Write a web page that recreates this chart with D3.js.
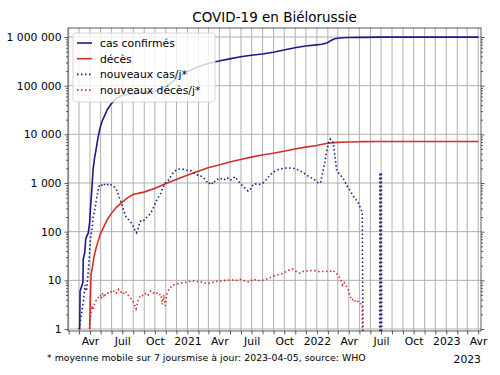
<!DOCTYPE html>
<html>
<head>
<meta charset="utf-8">
<script src="https://cdn.jsdelivr.net/npm/d3@7"></script>
<style>
  body { margin: 0; background: #fff; }
  svg { font-family: "DejaVu Sans", sans-serif; }
</style>
</head>
<body>
<div id="chart"></div>
<script>
// cumulative confirmed cases
const cumulCases = [
  ['2020-03-01', 1], ['2020-03-03', 1], ['2020-03-04', 6], ['2020-03-12', 9], ['2020-03-13', 27],
  ['2020-03-17', 36], ['2020-03-20', 69], ['2020-03-23', 81], ['2020-03-27', 94], ['2020-03-31', 152],
  ['2020-04-03', 351], ['2020-04-06', 700], ['2020-04-10', 1981], ['2020-04-14', 3281], ['2020-04-18', 4779],
  ['2020-04-22', 7281], ['2020-04-26', 10463], ['2020-04-30', 14027], ['2020-05-06', 19255], ['2020-05-12', 24000],
  ['2020-05-20', 32426], ['2020-05-31', 42556], ['2020-06-15', 54680], ['2020-06-30', 62424], ['2020-07-15', 66000],
  ['2020-07-31', 68251], ['2020-08-31', 72555], ['2020-09-30', 77289], ['2020-10-15', 83000], ['2020-10-31', 95708],
  ['2020-11-15', 112000], ['2020-11-30', 139716], ['2020-12-15', 165000], ['2020-12-31', 194000], ['2021-01-31', 245000],
  ['2021-02-28', 285000], ['2021-03-31', 320000], ['2021-04-30', 355000], ['2021-05-31', 392000], ['2021-06-30', 420000],
  ['2021-07-31', 447000], ['2021-08-31', 485000], ['2021-09-30', 540000], ['2021-10-31', 600000], ['2021-11-30', 655000],
  ['2021-12-31', 690000], ['2022-01-15', 710000], ['2022-01-31', 760000], ['2022-02-10', 850000], ['2022-02-20', 920000],
  ['2022-03-01', 945000], ['2022-03-15', 965000], ['2022-03-31', 978000], ['2022-04-30', 983000], ['2022-05-11', 983500],
  ['2022-06-28', 994000], ['2023-04-02', 994000]
];

// cumulative deaths
const cumulDeaths = [
  ['2020-03-31', 1], ['2020-04-02', 4], ['2020-04-04', 13], ['2020-04-08', 19], ['2020-04-12', 29],
  ['2020-04-16', 40], ['2020-04-20', 51], ['2020-04-25', 67], ['2020-04-30', 89], ['2020-05-10', 126],
  ['2020-05-20', 179], ['2020-05-31', 235], ['2020-06-15', 320], ['2020-06-30', 400], ['2020-07-15', 490],
  ['2020-07-31', 580], ['2020-08-31', 650], ['2020-09-30', 770], ['2020-10-31', 960], ['2020-11-30', 1180],
  ['2020-12-31', 1450], ['2021-01-31', 1750], ['2021-02-28', 2050], ['2021-03-31', 2350], ['2021-04-30', 2700],
  ['2021-05-31', 3050], ['2021-06-30', 3400], ['2021-07-31', 3750], ['2021-08-31', 4100], ['2021-09-30', 4500],
  ['2021-10-31', 5000], ['2021-11-30', 5450], ['2021-12-31', 5900], ['2022-01-31', 6550], ['2022-02-28', 6820],
  ['2022-03-31', 6980], ['2022-04-30', 7060], ['2022-05-11', 7080], ['2022-06-28', 7118], ['2023-04-02', 7118]
];

// new cases per day (7-day average)
const newCases = [
  ['2020-03-01', 1], ['2020-03-08', 2], ['2020-03-14', 4], ['2020-03-18', 8], ['2020-03-22', 6],
  ['2020-03-26', 12], ['2020-03-30', 30], ['2020-04-03', 80], ['2020-04-06', 100], ['2020-04-10', 200],
  ['2020-04-15', 300], ['2020-04-20', 500], ['2020-04-24', 700], ['2020-04-28', 900], ['2020-05-02', 950],
  ['2020-05-06', 880], ['2020-05-10', 960], ['2020-05-14', 900], ['2020-05-18', 950], ['2020-05-22', 920],
  ['2020-05-27', 960], ['2020-06-01', 890], ['2020-06-06', 870], ['2020-06-12', 780], ['2020-06-18', 650],
  ['2020-06-24', 470], ['2020-06-30', 360], ['2020-07-06', 260], ['2020-07-12', 200], ['2020-07-18', 180],
  ['2020-07-24', 160], ['2020-07-30', 140], ['2020-08-05', 110], ['2020-08-10', 95], ['2020-08-14', 110],
  ['2020-08-20', 160], ['2020-08-25', 175], ['2020-08-31', 170], ['2020-09-06', 190], ['2020-09-12', 210],
  ['2020-09-18', 230], ['2020-09-24', 280], ['2020-09-30', 350], ['2020-10-06', 440], ['2020-10-12', 520],
  ['2020-10-18', 620], ['2020-10-24', 800], ['2020-10-30', 1000], ['2020-11-05', 1050], ['2020-11-10', 1200],
  ['2020-11-17', 1450], ['2020-11-24', 1700], ['2020-12-01', 1850], ['2020-12-08', 1920], ['2020-12-15', 1950],
  ['2020-12-22', 1900], ['2020-12-29', 1850], ['2021-01-05', 1750], ['2021-01-12', 1780], ['2021-01-19', 1600],
  ['2021-01-26', 1500], ['2021-02-02', 1400], ['2021-02-09', 1380], ['2021-02-16', 1250], ['2021-02-23', 1100],
  ['2021-03-02', 950], ['2021-03-09', 1050], ['2021-03-14', 950], ['2021-03-22', 1150], ['2021-04-03', 1260],
  ['2021-04-14', 1150], ['2021-04-22', 1300], ['2021-05-01', 1150], ['2021-05-08', 1200], ['2021-05-15', 1350],
  ['2021-05-22', 1150], ['2021-05-29', 1000], ['2021-06-07', 850], ['2021-06-14', 760], ['2021-06-21', 680],
  ['2021-06-30', 780], ['2021-07-05', 930], ['2021-07-11', 960], ['2021-07-20', 920], ['2021-08-02', 1000],
  ['2021-08-10', 1150], ['2021-08-20', 1400], ['2021-08-30', 1650], ['2021-09-10', 1850], ['2021-09-28', 2000],
  ['2021-10-12', 2050], ['2021-10-26', 2000], ['2021-11-05', 1900], ['2021-11-14', 1780], ['2021-11-23', 1650],
  ['2021-12-03', 1450], ['2021-12-12', 1320], ['2021-12-21', 1250], ['2021-12-30', 1100], ['2022-01-06', 980],
  ['2022-01-12', 1050], ['2022-01-18', 1700], ['2022-01-24', 2800], ['2022-01-30', 5000], ['2022-02-04', 7000],
  ['2022-02-08', 8000], ['2022-02-12', 7200], ['2022-02-16', 6800], ['2022-02-21', 3500], ['2022-02-26', 1800],
  ['2022-03-02', 1650], ['2022-03-09', 1450], ['2022-03-16', 1250], ['2022-03-23', 1000], ['2022-03-30', 800],
  ['2022-04-05', 700], ['2022-04-12', 560], ['2022-04-19', 480], ['2022-04-27', 400], ['2022-05-03', 320],
  ['2022-05-09', 250], ['2022-05-12', 0], ['2022-06-27', 0], ['2022-06-28', 1650], ['2022-06-29', 0],
  ['2022-06-30', 1650], ['2022-07-01', 0], ['2022-07-02', 1650], ['2022-07-03', 0], ['2023-04-02', 0]
];

// new deaths per day (7-day average)
const newDeaths = [
  ['2020-03-31', 1], ['2020-04-03', 2], ['2020-04-07', 3], ['2020-04-10', 2.5], ['2020-04-15', 3.5],
  ['2020-04-20', 4], ['2020-04-25', 4.5], ['2020-04-30', 5], ['2020-05-03', 4.2], ['2020-05-07', 5.5],
  ['2020-05-12', 4.5], ['2020-05-16', 5.5], ['2020-05-22', 5.5], ['2020-05-28', 6], ['2020-06-03', 5.5],
  ['2020-06-09', 6.2], ['2020-06-15', 5.5], ['2020-06-21', 6.5], ['2020-06-27', 5.8], ['2020-07-03', 5.2],
  ['2020-07-10', 6], ['2020-07-17', 5], ['2020-07-23', 4.5], ['2020-08-02', 3.5], ['2020-08-09', 2.6],
  ['2020-08-15', 4], ['2020-08-23', 5], ['2020-08-30', 4.8], ['2020-09-06', 5.5], ['2020-09-12', 5],
  ['2020-09-19', 6], ['2020-09-26', 5.5], ['2020-10-04', 5.8], ['2020-10-11', 5], ['2020-10-18', 5.2],
  ['2020-10-22', 3.2], ['2020-10-26', 5], ['2020-10-30', 3], ['2020-11-05', 5.8], ['2020-11-13', 7],
  ['2020-11-20', 8], ['2020-11-27', 8.2], ['2020-12-05', 8.5], ['2020-12-15', 8.8], ['2020-12-25', 9],
  ['2021-01-05', 9.5], ['2021-01-15', 9.8], ['2021-01-25', 9.5], ['2021-02-05', 9.4], ['2021-02-15', 9],
  ['2021-02-25', 8.6], ['2021-03-09', 8.8], ['2021-03-20', 9.5], ['2021-04-06', 9.7], ['2021-04-20', 10],
  ['2021-05-05', 10.2], ['2021-05-20', 10], ['2021-05-29', 10.5], ['2021-06-10', 9.8], ['2021-06-18', 9.3],
  ['2021-06-28', 9.5], ['2021-07-05', 10.6], ['2021-07-15', 10], ['2021-07-25', 9.8], ['2021-08-02', 10],
  ['2021-08-15', 10.8], ['2021-08-30', 12], ['2021-09-14', 13], ['2021-09-28', 14], ['2021-10-12', 16],
  ['2021-10-26', 17], ['2021-11-05', 15], ['2021-11-15', 14], ['2021-11-25', 15.5], ['2021-12-07', 15.5],
  ['2021-12-20', 16], ['2022-01-01', 15.5], ['2022-01-10', 15], ['2022-01-22', 15.5], ['2022-02-05', 15],
  ['2022-02-16', 16], ['2022-02-22', 14], ['2022-02-27', 13.5], ['2022-03-08', 11], ['2022-03-15', 8],
  ['2022-03-19', 9], ['2022-03-22', 8.5], ['2022-03-30', 6.5], ['2022-04-03', 5], ['2022-04-10', 3.9],
  ['2022-04-15', 4.2], ['2022-04-20', 3.6], ['2022-04-25', 3.8], ['2022-05-01', 3.4], ['2022-05-09', 3.2],
  ['2022-05-11', 0], ['2023-04-02', 0]
];

const yTickValues = [1, 10, 100, 1000, 10000, 100000, 1000000];
const yTickLabels = ['1', '10', '100', '1 000', '10 000', '100 000', '1 000 000'];
const monthLabels = { 3: 'Avr', 6: 'Juil', 9: 'Oct' };

const legendItems = [
  { label: 'cas confirmés', color: '#1b1b87', dash: null },
  { label: 'décès', color: '#d0302b', dash: null },
  { label: 'nouveaux cas/j*', color: '#1b1b87', dash: '1.5,2.5' },
  { label: 'nouveaux décès/j*', color: '#d0302b', dash: '1.5,2.5' }
];

const parse = d3.utcParse('%Y-%m-%d');
const W = 500, H = 375;
const margin = { top: 28, right: 19, bottom: 44, left: 68 };
const width = W - margin.left - margin.right;
const height = H - margin.top - margin.bottom;

const x = d3.scaleUtc()
  .domain([parse('2020-01-30'), parse('2023-04-09')])
  .range([0, width]);

const y = d3.scaleLog()
  .domain([0.91, 1.53e6])
  .range([height, 0]);

const svg = d3.select('#chart').append('svg')
  .attr('width', W)
  .attr('height', H);

svg.append('defs').append('clipPath').attr('id', 'clip')
  .append('rect').attr('width', width).attr('height', height);

const g = svg.append('g')
  .attr('transform', 'translate(' + margin.left + ',' + margin.top + ')');

// grid
const months = d3.utcMonth.range(parse('2020-02-01'), parse('2023-04-09'));
g.append('g').selectAll('line')
  .data(months)
  .enter().append('line')
  .attr('x1', d => x(d)).attr('x2', d => x(d))
  .attr('y1', 0).attr('y2', height)
  .attr('stroke', '#b0b0b0')
  .attr('stroke-width', 1);

g.append('g').selectAll('line')
  .data(yTickValues)
  .enter().append('line')
  .attr('x1', 0).attr('x2', width)
  .attr('y1', d => y(d)).attr('y2', d => y(d))
  .attr('stroke', '#b0b0b0')
  .attr('stroke-width', 1);

// lines
const line = d3.line()
  .x(d => x(parse(d[0])))
  .y(d => y(Math.max(d[1], 0.05)));

const plot = g.append('g').attr('clip-path', 'url(#clip)');
const series = [cumulCases, cumulDeaths, newCases, newDeaths];
series.forEach((s, i) => {
  plot.append('path')
    .attr('d', line(s))
    .attr('fill', 'none')
    .attr('stroke', legendItems[i].color)
    .attr('stroke-width', 1.6)
    .attr('stroke-dasharray', legendItems[i].dash);
});

// axes
const minor = [];
for (let e = 0; e <= 6; e++) {
  for (let m = 2; m <= 9; m++) {
    const v = m * Math.pow(10, e);
    if (v < 1.53e6) minor.push(v);
  }
}

const yAxisL = d3.axisLeft(y).tickValues(yTickValues)
  .tickFormat((d, i) => yTickLabels[i]).tickSize(3.5).tickPadding(3);
const yAxisR = d3.axisRight(y).tickValues(yTickValues)
  .tickFormat('').tickSize(3.5);

const yl = g.append('g').call(yAxisL);
const yr = g.append('g').attr('transform', 'translate(' + width + ',0)').call(yAxisR);
yl.append('g').call(d3.axisLeft(y).tickValues(minor).tickFormat('').tickSize(2));
yr.append('g').call(d3.axisRight(y).tickValues(minor).tickFormat('').tickSize(2));

const xAxis = d3.axisBottom(x).tickValues(months)
  .tickFormat(d => d.getUTCMonth() === 0 ? String(d.getUTCFullYear()) : (monthLabels[d.getUTCMonth()] || ''))
  .tickSize(3.5).tickPadding(3);
const xa = g.append('g').attr('transform', 'translate(0,' + height + ')').call(xAxis);

[yl, yr, xa].forEach(a => {
  a.selectAll('.domain').remove();
  a.selectAll('line').attr('stroke', '#333').attr('stroke-width', 0.8);
  a.selectAll('text').attr('fill', '#000').style('font-size', '10.8px').style('font-family', '"DejaVu Sans", sans-serif');
});

// frame
g.append('rect')
  .attr('width', width).attr('height', height)
  .attr('fill', 'none')
  .attr('stroke', '#333')
  .attr('stroke-width', 0.8);

// legend
const legend = g.append('g').attr('transform', 'translate(5,5)');
legend.append('rect')
  .attr('width', 142).attr('height', 69).attr('rx', 2.5)
  .attr('fill', '#fff').attr('fill-opacity', 0.8)
  .attr('stroke', '#ccc').attr('stroke-width', 0.8);
legendItems.forEach((d, i) => {
  const row = legend.append('g').attr('transform', 'translate(0,' + (10 + i * 15.7) + ')');
  row.append('line')
    .attr('x1', 4).attr('x2', 19)
    .attr('stroke', d.color).attr('stroke-width', 1.6)
    .attr('stroke-dasharray', d.dash);
  row.append('text')
    .attr('x', 27).attr('y', 4)
    .style('font-size', '10.8px')
    .text(d.label);
});

// title and notes
svg.append('text')
  .attr('x', margin.left + width / 2).attr('y', 22)
  .attr('text-anchor', 'middle')
  .style('font-size', '13.5px')
  .text('COVID-19 en Biélorussie');

svg.append('text')
  .attr('x', 47).attr('y', 361)
  .style('font-size', '9.4px')
  .text('* moyenne mobile sur 7 jours');

svg.append('text')
  .attr('x', 186).attr('y', 361)
  .style('font-size', '9.4px')
  .text('mise à jour: 2023-04-05, source: WHO');

svg.append('text')
  .attr('x', margin.left + width).attr('y', 363)
  .attr('text-anchor', 'end')
  .style('font-size', '10.8px')
  .text('2023');
</script>
</body>
</html>
